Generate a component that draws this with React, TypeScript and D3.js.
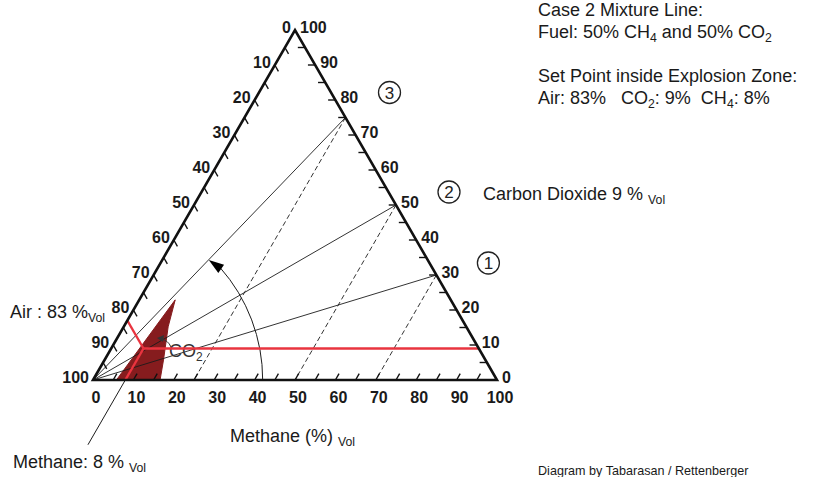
import React, { useEffect, useRef } from 'react';
import * as d3 from 'd3';

// axis labels (percent) and tick positions
const axisLabels = [0, 10, 20, 30, 40, 50, 60, 70, 80, 90, 100];
const tickSteps = [5, 10, 15, 20, 25, 30, 35, 40, 45, 50, 55, 60, 65, 70, 75, 80, 85, 90, 95];

// mixture lines: CO2 share of the fuel for cases 1..3
const mixtureCO2 = [30, 50, 75];
const mixtureMarks = ['1', '2', '3'];

// set point inside explosion zone
const setAir = 83;
const setCO2 = 9;
const setCH4 = 8;

// explosion zone outline as [CH4, CO2]
const explosionZone: [number, number][] = [
  [5.8, 0],
  [16.6, 0],
  [14.6, 5.7],
  [11.0, 15.2],
  [8.9, 22.9],
];

// rotation arrow radius (in % of side) and sweep angle
const arcRadius = 42;
const arcEndDeg = 46;

const FONT = '"Liberation Sans", Arial, sans-serif';

type Part = [string, boolean];

export default function App() {
  const svgRef = useRef<SVGSVGElement>(null);

  useEffect(() => {
    if (!svgRef.current) return;
    const svg = d3.select(svgRef.current);
    svg.selectAll('*').remove();

    const W = 816;
    const H = 477;
    svg.attr('width', W).attr('height', H);
    svg.append('rect').attr('width', W).attr('height', H).attr('fill', '#fff');

    const xs = d3.scaleLinear().domain([0, 100]).range([93, 497]);
    const ys = d3.scaleLinear().domain([0, 100]).range([380, 30]);
    const pt = (ch4: number, co2: number): [number, number] => [xs(ch4 + co2 / 2), ys(co2)];
    const line = d3.line<[number, number]>();

    const ink = '#1c1c1c';
    const red = '#e9343f';

    // explosion zone
    svg.append('path')
      .attr('d', line(explosionZone.map(d => pt(d[0], d[1])))! + 'Z')
      .attr('fill', '#861c1e')
      .attr('stroke', '#861c1e')
      .attr('stroke-width', 1)
      .attr('stroke-linejoin', 'round');

    // mixture lines from the air corner
    mixtureCO2.forEach(c => {
      svg.append('path')
        .attr('d', line([pt(0, 0), pt(100 - c, c)]))
        .attr('stroke', ink)
        .attr('stroke-width', 0.9)
        .attr('fill', 'none');
    });

    // constant methane lines (dashed)
    mixtureCO2.forEach(c => {
      svg.append('path')
        .attr('d', line([pt(100 - c, c), pt(100 - c, 0)]))
        .attr('stroke', ink)
        .attr('stroke-width', 0.9)
        .attr('stroke-dasharray', '5,3')
        .attr('fill', 'none');
    });

    // rotation arrow
    const [cx, cy] = pt(0, 0);
    const r = xs(arcRadius) - xs(0);
    const a1 = (arcEndDeg - 4.5) * Math.PI / 180;
    const a2 = arcEndDeg * Math.PI / 180;
    const arcPath = d3.path();
    arcPath.moveTo(cx + r, cy);
    arcPath.arc(cx, cy, r, 0, -a1, true);
    svg.append('path')
      .attr('d', arcPath.toString())
      .attr('stroke', ink)
      .attr('stroke-width', 1)
      .attr('fill', 'none');
    const tip: [number, number] = [cx + (r - 3) * Math.cos(a2), cy - (r - 3) * Math.sin(a2)];
    const baseC: [number, number] = [cx + r * Math.cos(a1 - 0.01), cy - r * Math.sin(a1 - 0.01)];
    const dx = tip[0] - baseC[0];
    const dy = tip[1] - baseC[1];
    const len = Math.hypot(dx, dy);
    const nx = -dy / len * 5;
    const ny = dx / len * 5;
    svg.append('path')
      .attr('d', line([tip, [baseC[0] + nx, baseC[1] + ny], [baseC[0] - nx, baseC[1] - ny]])! + 'Z')
      .attr('fill', '#000');

    // small CO2 marker near the set point
    svg.append('text')
      .attr('x', 169)
      .attr('y', 357)
      .attr('font-family', FONT)
      .attr('font-size', 18)
      .attr('fill', '#333')
      .call(t => {
        t.append('tspan').text('CO');
        t.append('tspan').attr('font-size', 12).attr('dy', 4).text('2');
      });
    svg.append('path')
      .attr('d', 'M171,347 Q168,340 161,339')
      .attr('stroke', '#333')
      .attr('stroke-width', 1)
      .attr('fill', 'none');
    svg.append('path')
      .attr('d', 'M157,338 L164,335 L163,342 Z')
      .attr('fill', '#333');

    // methane pointer below the axis
    svg.append('path')
      .attr('d', line([pt(setCH4, 0), pt(setCH4, -18.5)]))
      .attr('stroke', ink)
      .attr('stroke-width', 1)
      .attr('fill', 'none');

    // red set point lines
    const sp = pt(setCH4, setCO2);
    [pt(100 - setCO2, setCO2), pt(0, 100 - setAir), pt(setCH4, 0)].forEach(e => {
      svg.append('path')
        .attr('d', line([sp, e]))
        .attr('stroke', red)
        .attr('stroke-width', 2.4)
        .attr('fill', 'none');
    });

    // triangle frame
    svg.append('path')
      .attr('d', line([pt(0, 0), pt(100, 0), pt(0, 100)])! + 'Z')
      .attr('stroke', '#111')
      .attr('stroke-width', 2.6)
      .attr('stroke-linejoin', 'miter')
      .attr('fill', 'none');

    // ticks
    const tl = 1.8;
    tickSteps.forEach(v => {
      // bottom (methane)
      svg.append('path').attr('d', line([pt(v, 0), pt(v, tl)]))
        .attr('stroke', '#111').attr('stroke-width', 1.4);
      // left (air)
      svg.append('path').attr('d', line([pt(0, 100 - v), pt(tl, 100 - v - tl)]))
        .attr('stroke', '#111').attr('stroke-width', 1.4);
      // right (CO2)
      svg.append('path').attr('d', line([pt(100 - v, v), pt(100 - v - tl, v)]))
        .attr('stroke', '#111').attr('stroke-width', 1.4);
    });

    // axis labels
    const lab = svg.append('g')
      .attr('font-family', FONT)
      .attr('font-weight', 'bold')
      .attr('font-size', 16)
      .attr('fill', '#1a1a1a');
    axisLabels.forEach(v => {
      const b = pt(v, 0);
      lab.append('text').attr('x', b[0] + 3).attr('y', b[1] + 23)
        .attr('text-anchor', 'middle').text(v);
      const l = pt(0, 100 - v);
      lab.append('text').attr('x', l[0] - 4).attr('y', l[1] + 3)
        .attr('text-anchor', 'end').text(v);
      const rr = pt(100 - v, v);
      lab.append('text').attr('x', rr[0] + 5).attr('y', rr[1] + 3)
        .attr('text-anchor', 'start').text(v);
    });

    // circled case numbers
    const markOffsets: [number, number][] = [[52, -12], [53, -13], [44, -25]];
    mixtureCO2.forEach((c, i) => {
      const e = pt(100 - c, c);
      const g = svg.append('g').attr('transform', `translate(${e[0] + markOffsets[i][0]},${e[1] + markOffsets[i][1]})`);
      g.append('circle').attr('r', 11).attr('fill', 'none').attr('stroke', '#222').attr('stroke-width', 1.3);
      g.append('text').attr('y', 6).attr('text-anchor', 'middle')
        .attr('font-family', FONT).attr('font-size', 17).attr('fill', '#222')
        .text(mixtureMarks[i]);
    });

    // text helper with subscripts
    const addText = (x: number, y: number, parts: Part[], size: number) => {
      const t = svg.append('text')
        .attr('x', x).attr('y', y)
        .attr('font-family', FONT)
        .attr('font-size', size)
        .attr('fill', '#1a1a1a')
        .style('white-space', 'pre');
      let down = false;
      parts.forEach(([s, sub]) => {
        const ts = t.append('tspan').text(s);
        if (sub && !down) { ts.attr('dy', 4).attr('font-size', size * 0.68); down = true; }
        else if (sub) { ts.attr('font-size', size * 0.68); }
        else if (down) { ts.attr('dy', -4); down = false; }
      });
      return t;
    };

    addText(538, 16, [['Case 2 Mixture Line:', false]], 18);
    addText(538, 38, [['Fuel: 50% CH', false], ['4', true], [' and 50% CO', false], ['2', true]], 18);
    addText(538, 82, [['Set Point inside Explosion Zone:', false]], 18);
    addText(538, 104, [[`Air: ${setAir}%   CO`, false], ['2', true], [`: ${setCO2}%  CH`, false], ['4', true], [`: ${setCH4}%`, false]], 18);
    addText(483, 200, [[`Carbon Dioxide ${setCO2} % `, false], ['Vol', true]], 18);
    addText(10, 318, [[`Air : ${setAir} %`, false], ['Vol', true]], 18);
    addText(13, 468, [[`Methane: ${setCH4} % `, false], ['Vol', true]], 18);
    addText(230, 442, [['Methane (%) ', false], ['Vol', true]], 18);
    addText(538, 475, [['Diagram by Tabarasan / Rettenberger', false]], 12.6);
  }, []);

  return (
    <div style={{ position: 'absolute', left: 0, top: 0 }}>
      <svg ref={svgRef} style={{ display: 'block' }}></svg>
    </div>
  );
}
